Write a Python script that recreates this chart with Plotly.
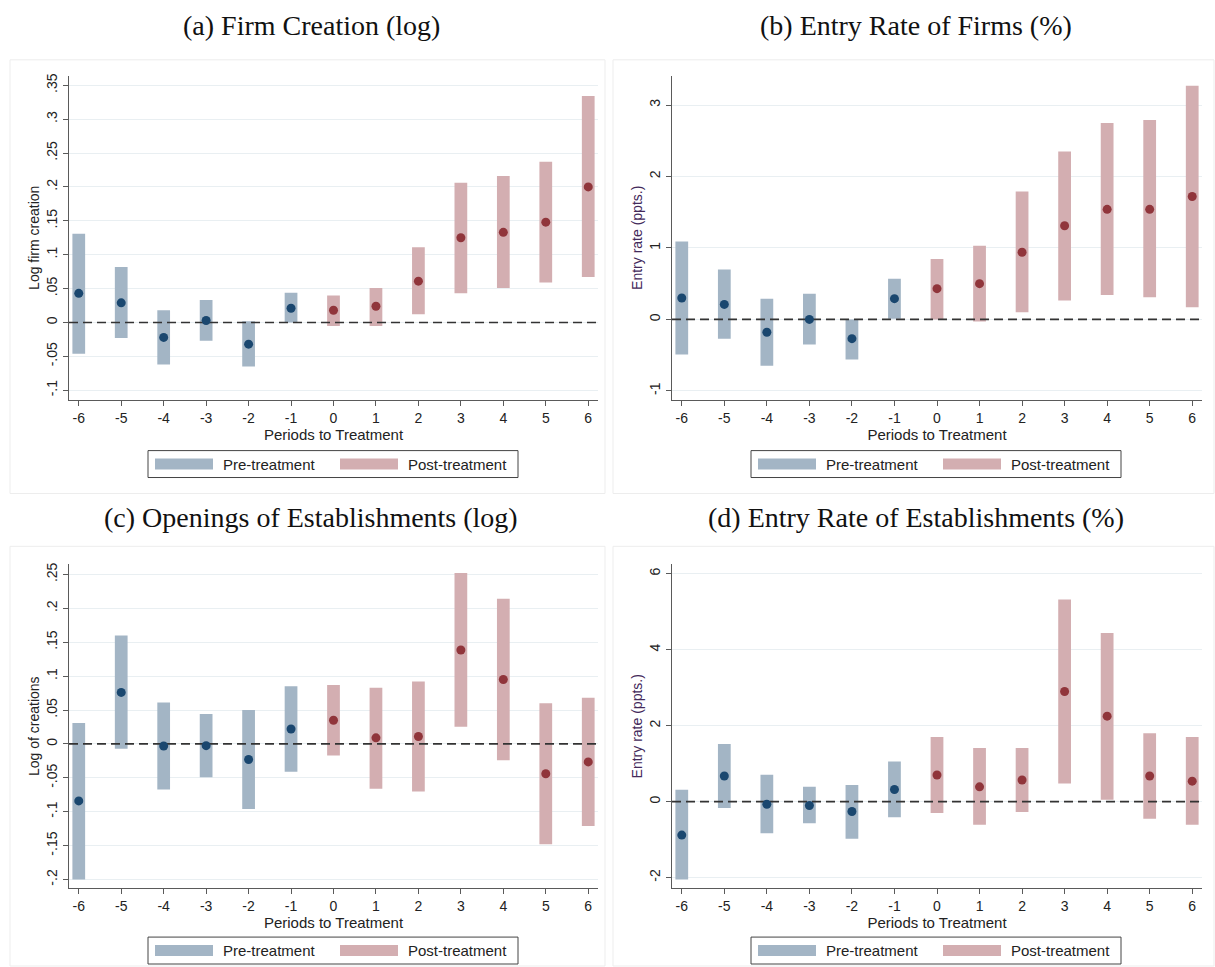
import plotly.graph_objects as go

# ---------------- data ----------------
periods = [-6, -5, -4, -3, -2, -1, 0, 1, 2, 3, 4, 5, 6]

a_est = [0.043, 0.029, -0.022, 0.003, -0.032, 0.021, 0.018, 0.024, 0.061, 0.125, 0.133, 0.148, 0.200]
a_lo = [-0.046, -0.023, -0.062, -0.027, -0.065, 0.000, -0.005, -0.005, 0.012, 0.043, 0.051, 0.059, 0.067]
a_hi = [0.131, 0.082, 0.018, 0.033, 0.002, 0.044, 0.040, 0.051, 0.111, 0.206, 0.216, 0.237, 0.334]

b_est = [0.30, 0.21, -0.18, 0.00, -0.27, 0.29, 0.43, 0.50, 0.94, 1.31, 1.54, 1.54, 1.72]
b_lo = [-0.49, -0.27, -0.65, -0.35, -0.56, 0.01, 0.00, -0.03, 0.10, 0.265, 0.34, 0.31, 0.17]
b_hi = [1.09, 0.70, 0.29, 0.36, 0.00, 0.57, 0.845, 1.03, 1.79, 2.35, 2.75, 2.79, 3.27]

c_est = [-0.084, 0.076, -0.003, -0.0025, -0.023, 0.022, 0.035, 0.009, 0.011, 0.1385, 0.095, -0.044, -0.0265]
c_lo = [-0.200, -0.007, -0.067, -0.049, -0.096, -0.041, -0.017, -0.066, -0.070, 0.0255, -0.024, -0.148, -0.121]
c_hi = [0.031, 0.160, 0.061, 0.044, 0.050, 0.085, 0.087, 0.083, 0.092, 0.252, 0.214, 0.060, 0.068]

d_est = [-0.88, 0.675, -0.07, -0.10, -0.26, 0.32, 0.70, 0.39, 0.57, 2.90, 2.25, 0.675, 0.54]
d_lo = [-2.05, -0.17, -0.83, -0.57, -0.98, -0.41, -0.30, -0.61, -0.27, 0.48, 0.05, -0.45, -0.61]
d_hi = [0.31, 1.52, 0.71, 0.39, 0.44, 1.06, 1.70, 1.41, 1.41, 5.32, 4.44, 1.80, 1.70]

panel_titles = ["(a) Firm Creation (log)", "(b) Entry Rate of Firms (%)",
                "(c) Openings of Establishments (log)", "(d) Entry Rate of Establishments (%)"]
y_titles = ["Log firm creation", "Entry rate (ppts.)", "Log of creations", "Entry rate (ppts.)"]
x_title = "Periods to Treatment"
legend_labels = ["Pre-treatment", "Post-treatment"]

a_ticks = [-0.1, -0.05, 0, 0.05, 0.1, 0.15, 0.2, 0.25, 0.3, 0.35]
a_ticktext = ["-.1", "-.05", "0", ".05", ".1", ".15", ".2", ".25", ".3", ".35"]
b_ticks = [-1, 0, 1, 2, 3]
b_ticktext = ["-1", "0", "1", "2", "3"]
c_ticks = [-0.2, -0.15, -0.1, -0.05, 0, 0.05, 0.1, 0.15, 0.2, 0.25]
c_ticktext = ["-.2", "-.15", "-.1", "-.05", "0", ".05", ".1", ".15", ".2", ".25"]
d_ticks = [-2, 0, 2, 4, 6]
d_ticktext = ["-2", "0", "2", "4", "6"]

# ---------------- style ----------------
W, H = 1215, 967
PRE_BAR = "#A3B5C5"
POST_BAR = "#D3AEB1"
PRE_PT = "#1A476F"
POST_PT = "#90353B"
GRID = "#E9EFF2"
AXIS = "#5a5a5a"
SANS = "Liberation Sans, Arial, sans-serif"
SERIF = "Liberation Serif, Times New Roman, serif"
X_RANGE = [-6.23, 6.23]

panels = [
    dict(est=a_est, lo=a_lo, hi=a_hi, yr=[-0.114, 0.364], tv=a_ticks, tt=a_ticktext, ytc="#222222"),
    dict(est=b_est, lo=b_lo, hi=b_hi, yr=[-1.125, 3.41], tv=b_ticks, tt=b_ticktext, ytc="#43295a"),
    dict(est=c_est, lo=c_lo, hi=c_hi, yr=[-0.2128, 0.265], tv=c_ticks, tt=c_ticktext, ytc="#222222"),
    dict(est=d_est, lo=d_lo, hi=d_hi, yr=[-2.28, 6.25], tv=d_ticks, tt=d_ticktext, ytc="#43295a"),
]

# pixel layout (left, right, top, bottom) of each plot area
areas = [(69, 598, 73, 398), (672, 1202, 73, 398), (69, 598, 563, 888), (672, 1202, 563, 888)]
title_pos = [(311, 23), (916, 23), (311, 516), (916, 516)]
legend_origin = [(148, 449), (751, 449), (148, 937), (751, 937)]
region_boxes = [(10, 57, 605, 492), (613, 57, 1214, 492), (10, 545, 605, 966), (613, 545, 1214, 966)]

fig = go.Figure()
shapes = []
annotations = []

for i, p in enumerate(panels):
    n = "" if i == 0 else str(i + 1)
    xa, ya = "x" + n, "y" + n
    pre_idx = [k for k, t in enumerate(periods) if t < 0]
    post_idx = [k for k, t in enumerate(periods) if t >= 0]
    for idx, col in ((pre_idx, PRE_BAR), (post_idx, POST_BAR)):
        fig.add_trace(go.Bar(
            x=[periods[k] for k in idx],
            y=[p["hi"][k] - p["lo"][k] for k in idx],
            base=[p["lo"][k] for k in idx],
            width=0.3, marker=dict(color=col, line=dict(width=0)),
            showlegend=False, xaxis=xa, yaxis=ya, hoverinfo="skip"))
    # zero reference line
    fig.add_trace(go.Scatter(x=X_RANGE, y=[0, 0], mode="lines",
                             line=dict(color="#333333", width=1.7, dash="9px,5px"),
                             showlegend=False, xaxis=xa, yaxis=ya, hoverinfo="skip"))
    for idx, col in ((pre_idx, PRE_PT), (post_idx, POST_PT)):
        fig.add_trace(go.Scatter(
            x=[periods[k] for k in idx], y=[p["est"][k] for k in idx],
            mode="markers", marker=dict(color=col, size=9),
            showlegend=False, xaxis=xa, yaxis=ya))

    l, r, t, b = areas[i]
    xkey = "xaxis" + n
    ykey = "yaxis" + n
    fig.update_layout(**{
        xkey: dict(domain=[l / W, r / W], anchor=ya, range=X_RANGE,
                   tickvals=periods, ticktext=[str(v) for v in periods],
                   ticks="outside", ticklen=5, tickcolor=AXIS, tickwidth=1,
                   showline=True, linecolor=AXIS, linewidth=1.3,
                   showgrid=False, zeroline=False,
                   tickfont=dict(family=SANS, size=14, color="#222222"),
                   title=dict(text=x_title, standoff=3,
                              font=dict(family=SANS, size=15, color="#222222"))),
        ykey: dict(domain=[1 - b / H, 1 - t / H], anchor=xa, range=p["yr"],
                   tickvals=p["tv"], ticktext=p["tt"], tickangle=-90,
                   ticks="outside", ticklen=5, tickcolor=AXIS, tickwidth=1,
                   showline=True, linecolor=AXIS, linewidth=1.3,
                   showgrid=True, gridcolor=GRID, gridwidth=1, zeroline=False,
                   tickfont=dict(family=SANS, size=14, color="#222222"),
                   title=dict(text=y_titles[i], standoff=1,
                              font=dict(family=SANS, size=14, color=p["ytc"]))),
    })

    # panel caption
    tx, ty = title_pos[i]
    annotations.append(dict(text=panel_titles[i], x=tx / W, y=1 - ty / H, xref="paper", yref="paper",
                            xanchor="center", yanchor="middle", showarrow=False,
                            font=dict(family=SERIF, size=28, color="#111111")))

    # faint graph-region border
    x0, y0, x1, y1 = region_boxes[i]
    shapes.append(dict(type="rect", xref="paper", yref="paper", x0=x0 / W, x1=x1 / W,
                       y0=1 - y1 / H, y1=1 - y0 / H, line=dict(color="#EDEDED", width=1),
                       fillcolor="rgba(0,0,0,0)", layer="below"))

    # legend box
    lx, ly = legend_origin[i]
    shapes.append(dict(type="rect", xref="paper", yref="paper", x0=lx / W, x1=(lx + 370) / W,
                       y0=1 - (ly + 27) / H, y1=1 - ly / H, line=dict(color="#444444", width=1),
                       fillcolor="white"))
    for j, (col, dx_sw, dx_tx) in enumerate(((PRE_BAR, 7, 73), (POST_BAR, 192, 258))):
        shapes.append(dict(type="rect", xref="paper", yref="paper",
                           x0=(lx + dx_sw) / W, x1=(lx + dx_sw + 58) / W,
                           y0=1 - (ly + 19) / H, y1=1 - (ly + 8) / H,
                           line=dict(width=0), fillcolor=col))
        annotations.append(dict(text=legend_labels[j], x=(lx + dx_tx) / W, y=1 - (ly + 13.5) / H,
                                xref="paper", yref="paper", xanchor="left", yanchor="middle",
                                showarrow=False,
                                font=dict(family=SANS, size=15, color="#222222")))

fig.update_layout(width=W, height=H, margin=dict(l=0, r=0, t=0, b=0),
                  paper_bgcolor="white", plot_bgcolor="white",
                  barmode="overlay", showlegend=False,
                  shapes=shapes, annotations=annotations)

fig.write_html("out.html")
